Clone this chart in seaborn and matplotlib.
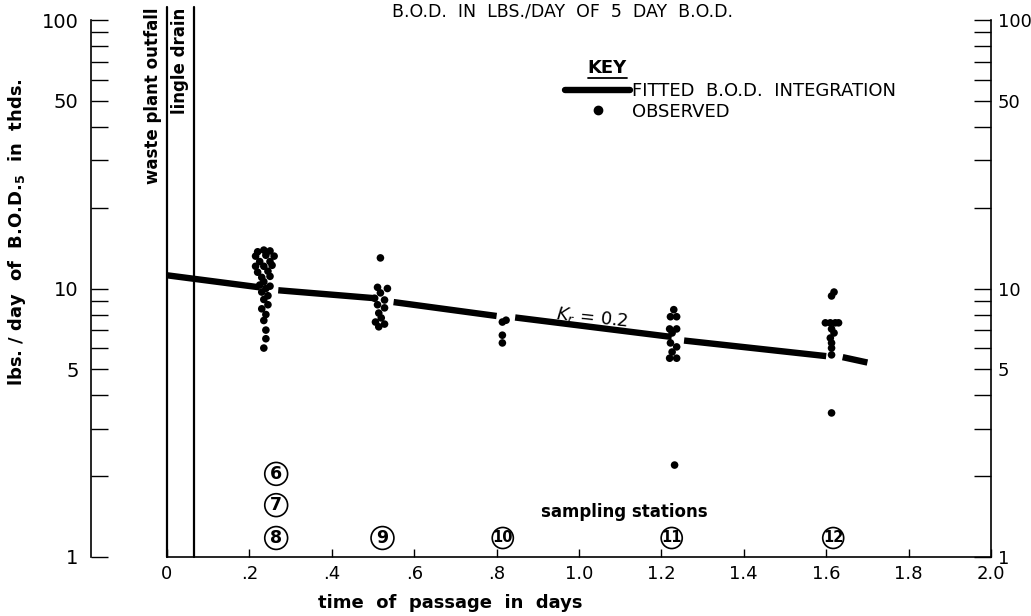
import numpy as np
import pandas as pd
import matplotlib
matplotlib.use("Agg")
import matplotlib.pyplot as plt
import seaborn as sns
from matplotlib.lines import Line2D
from matplotlib.ticker import FixedLocator, FixedFormatter, LogLocator, NullFormatter

sns.set_theme(style="white")
plt.rcParams["font.family"] = ["DejaVu Sans"]
plt.rcParams["text.color"] = "black"
plt.rcParams["axes.labelcolor"] = "black"
plt.rcParams["xtick.color"] = "black"
plt.rcParams["ytick.color"] = "black"

# ---------------- data ----------------
# observed B.O.D. (lbs/day, thousands) vs time of passage (days)
obs_days = [
    # station 8
    0.22, 0.235, 0.25, 0.215, 0.24, 0.26, 0.225, 0.25, 0.215, 0.235, 0.255,
    0.22, 0.245, 0.23, 0.25, 0.235, 0.225, 0.25, 0.24, 0.23, 0.245, 0.235,
    0.245, 0.23, 0.24, 0.235, 0.24, 0.24, 0.235,
    # station 9
    0.518, 0.511, 0.535, 0.518, 0.504, 0.528, 0.511, 0.528, 0.514, 0.52,
    0.506, 0.528, 0.514,
    # station 10
    0.814, 0.823, 0.814, 0.814,
    # station 11
    1.23, 1.222, 1.237, 1.22, 1.237, 1.226, 1.222, 1.237, 1.226, 1.22,
    1.237, 1.232,
    # station 12
    1.619, 1.613, 1.598, 1.61, 1.622, 1.63, 1.613, 1.619, 1.61, 1.613,
    1.613, 1.613, 1.613,
]
obs_bod = [
    # station 8
    13.7, 13.9, 13.8, 13.2, 13.3, 13.2, 12.6, 12.6, 12.1, 12.1, 12.2,
    11.5, 11.6, 11.0, 11.1, 10.6, 10.3, 10.2, 10.0, 9.7, 9.4, 9.1,
    8.7, 8.4, 8.0, 7.6, 7.0, 6.5, 6.0,
    # station 9
    13.0, 10.1, 10.0, 9.63, 9.2, 9.06, 8.7, 8.47, 8.1, 7.77,
    7.5, 7.37, 7.2,
    # station 10
    7.5, 7.62, 6.7, 6.27,
    # station 11
    8.34, 7.85, 7.85, 7.07, 7.07, 6.83, 6.27, 6.06, 5.8, 5.5,
    5.5, 2.2,
    # station 12
    9.7, 9.38, 7.45, 7.45, 7.45, 7.45, 7.07, 6.83, 6.54, 6.27,
    6.0, 5.66, 3.44,
]

# fitted B.O.D. integration (K_r = 0.2), drawn as broken segments
fit_segment = [1, 1, 2, 2, 3, 3, 4, 4, 5, 5, 6, 6]
fit_days = [0.0, 0.225, 0.27, 0.505, 0.55, 0.80, 0.845, 1.225, 1.255, 1.60, 1.64, 1.70]
fit_bod = [11.2, 10.1, 9.85, 9.2, 8.9, 7.9, 7.8, 6.6, 6.4, 5.6, 5.55, 5.3]

# sampling stations
station_labels = ["6", "7", "8", "9", "10", "11", "12"]
station_days = [0.265, 0.265, 0.265, 0.523, 0.815, 1.225, 1.617]
station_pos = [2.04, 1.56, 1.177, 1.177, 1.177, 1.177, 1.177]

# discharge points
outfall_names = ["waste plant outfall", "lingle drain"]
outfall_days = [0.0, 0.065]

x_ticks = [0.0, 0.2, 0.4, 0.6, 0.8, 1.0, 1.2, 1.4, 1.6, 1.8, 2.0]
x_tick_labels = ["0", ".2", ".4", ".6", ".8", "1.0", "1.2", "1.4", "1.6", "1.8", "2.0"]
y_ticks = [1, 5, 10, 50, 100]
y_tick_labels = ["1", "5", "10", "50", "100"]

# ---------------- figure ----------------
W, H = 1031, 616
fig = plt.figure(figsize=(W / 100, H / 100), dpi=100)
fig.patch.set_facecolor("white")
ax = fig.add_axes([167 / W, 1 - 557 / H, 824 / W, 537 / H])
ax.set_facecolor("white")
ax.set_yscale("log")

fit_df = pd.DataFrame({"seg": fit_segment, "days": fit_days, "bod": fit_bod})
obs_df = pd.DataFrame({"days": obs_days, "bod": obs_bod})

sns.lineplot(data=fit_df, x="days", y="bod", units="seg", estimator=None,
             sort=False, color="black", lw=4.6, solid_capstyle="butt",
             legend=False, ax=ax, zorder=2)
sns.scatterplot(data=obs_df, x="days", y="bod", color="black", s=30,
                edgecolor="none", legend=False, ax=ax, zorder=3)

ax.set_xlim(0, 2.0)
ax.set_ylim(1, 100)
ax.set_xlabel("")
ax.set_ylabel("")

# spines
ax.spines["top"].set_visible(False)
ax.spines["right"].set_visible(False)
for s in ["left", "bottom"]:
    ax.spines[s].set_visible(True)
    ax.spines[s].set_color("black")
    ax.spines[s].set_linewidth(1.2)
ax.spines["left"].set_position(("data", -0.184))

# x ticks
ax.xaxis.set_major_locator(FixedLocator(x_ticks))
ax.xaxis.set_major_formatter(FixedFormatter(x_tick_labels))
ax.tick_params(axis="x", which="major", direction="in", length=6, width=1,
               bottom=True, top=False, labelsize=13, pad=6, colors="black")


def style_y(a, side, pad, size):
    a.set_yscale("log")
    a.set_ylim(1, 100)
    a.yaxis.set_major_locator(FixedLocator(y_ticks))
    a.yaxis.set_major_formatter(FixedFormatter(y_tick_labels))
    a.yaxis.set_minor_locator(LogLocator(base=10, subs=range(2, 10)))
    a.yaxis.set_minor_formatter(NullFormatter())
    a.tick_params(axis="y", which="both", direction="in", length=12, width=1,
                  left=(side == "left"), right=(side == "right"),
                  labelleft=(side == "left"), labelright=(side == "right"),
                  labelsize=size, pad=pad, colors="black")


style_y(ax, "left", 9, 14)

# right-hand duplicate scale
ax2 = ax.twinx()
style_y(ax2, "right", 5, 13)
for s in ["left", "top", "bottom"]:
    ax2.spines[s].set_visible(False)
ax2.spines["right"].set_visible(True)
ax2.spines["right"].set_color("black")
ax2.spines["right"].set_linewidth(1.2)
ax2.set_ylabel("")

# discharge lines
for d in outfall_days:
    ax.plot([d, d], [1, 112], color="black", lw=1.6, clip_on=False, zorder=2)
ax.text(outfall_days[0] - 0.012, 111, outfall_names[0], rotation=90,
        ha="right", va="top", fontsize=12, fontweight="bold", clip_on=False)
ax.text((outfall_days[0] + outfall_days[1]) / 2, 111, outfall_names[1],
        rotation=90, ha="center", va="top", fontsize=12, fontweight="bold",
        clip_on=False)

# station labels
for lab, xd, yd in zip(station_labels, station_days, station_pos):
    single = len(lab) == 1
    ax.text(xd, yd, lab, ha="center", va="center",
            fontsize=12.5 if single else 10.5, fontweight="bold",
            bbox=dict(boxstyle="circle,pad=0.14" if single else "circle,pad=0.02",
                      fc="white", ec="black", lw=1.2), zorder=4)
ax.text(1.11, 1.47, "sampling stations", ha="center", va="center",
        fontsize=12, fontweight="bold")

# K_r annotation
ax.text(1.03, 7.75, r"$K_r$ = 0.2", ha="center", va="center", fontsize=13,
        rotation=-6)

# key
fig.text(607 / W, 1 - 68 / H, "KEY", ha="center", va="center", fontsize=13,
         fontweight="bold")
fig.add_artist(Line2D([588 / W, 627 / W], [1 - 78 / H, 1 - 78 / H],
                      color="black", lw=1.3))
handles = [Line2D([], [], color="black", lw=4.6),
           Line2D([], [], color="black", marker="o", ls="", ms=6)]
leg = ax2.legend(handles=handles, labels=["FITTED  B.O.D.  INTEGRATION", "OBSERVED"],
                 loc="upper left", bbox_to_anchor=(565 / W, 1 - 82 / H),
                 bbox_transform=fig.transFigure, frameon=False, handlelength=3.6,
                 handletextpad=0.1, labelspacing=0.15, borderpad=0, borderaxespad=0,
                 fontsize=13)
for t in leg.get_texts():
    t.set_color("black")

# title & axis labels
fig.text(562 / W, 1 - 12 / H, "B.O.D.  IN  LBS./DAY  OF  5  DAY  B.O.D.",
         ha="center", va="center", fontsize=12.5)
fig.text(450 / W, 1 - 603 / H, "time  of  passage  in  days", ha="center",
         va="center", fontsize=13, fontweight="bold")
fig.text(17 / W, 1 - 232 / H, r"lbs. / day  of  B.O.D.$_{\mathbf{5}}$  in  thds.",
         ha="center", va="center", rotation=90, fontsize=13, fontweight="bold")

fig.savefig("out.png", dpi=100, facecolor="white")
